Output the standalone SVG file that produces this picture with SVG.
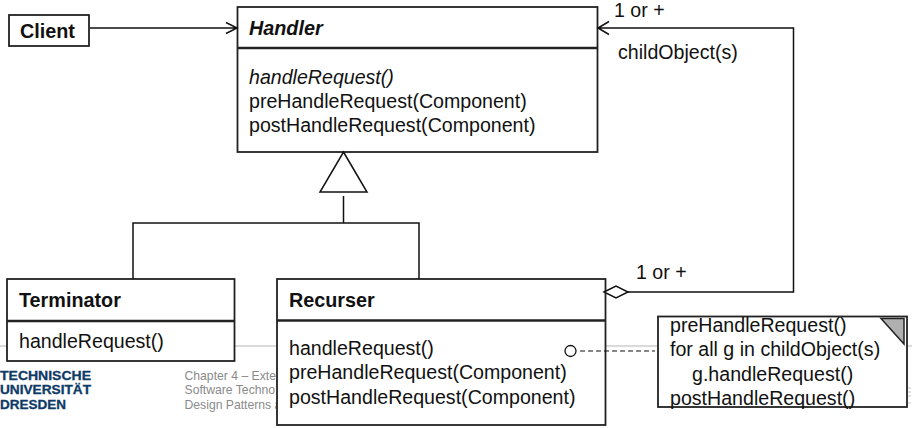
<svg xmlns="http://www.w3.org/2000/svg" width="912" height="428" viewBox="0 0 912 428">
<defs>
<style>
text{font-family:"Liberation Sans",Arial,sans-serif;fill:#111}
.t{font-size:19.6px}
.b{font-size:19.8px;font-weight:700}
.box{fill:#fff;stroke:#222;stroke-width:1.8}
.sep{stroke:#222;stroke-width:2.6;fill:none}
.l{fill:none;stroke:#111;stroke-width:1.5}
.w{fill:#fff;stroke:#111;stroke-width:1.5}
.f{font-size:12.2px;fill:#8a8a8a}
.tu{font-size:12.6px;font-weight:700;fill:#0e3a66;stroke:#0e3a66;stroke-width:.3}
</style>
</defs>
<g id="footer">
<path d="M0 346H912" stroke="#b5b5b5" stroke-width="1.2" fill="none"/>
<path d="M908 388H911M908 392H911M908 396H911M908 403H911" stroke="#c4c4c4" stroke-width="1" fill="none"/>
<text class="tu" x="0" y="379.500" textLength="91" lengthAdjust="spacingAndGlyphs">TECHNISCHE</text>
<text class="tu" x="0" y="394" textLength="91" lengthAdjust="spacingAndGlyphs">UNIVERSITÄT</text>
<text class="tu" x="0" y="408.500" textLength="66" lengthAdjust="spacingAndGlyphs">DRESDEN</text>
<text class="f" x="184.500" y="380">Chapter 4 – Exte</text>
<text class="f" x="184.500" y="394">Software Techno</text>
<text class="f" x="184.500" y="409">Design Patterns a</text>
</g>
<g id="client">
<rect class="box" x="9" y="15" width="80" height="31"/>
<text class="b" x="20" y="37.500">Client</text>
</g>
<g id="handler">
<rect class="box" x="237.500" y="7" width="360" height="145"/>
<path class="sep" d="M237.500 48H597.500"/>
<text class="b" x="249" y="34.500" font-style="italic">Handler</text>
<text class="t" x="249" y="83.500" font-style="italic">handleRequest()</text>
<text class="t" x="249" y="107.500">preHandleRequest(Component)</text>
<text class="t" x="249" y="131.500">postHandleRequest(Component)</text>
</g>
<g id="terminator">
<rect class="box" x="7" y="279" width="227.500" height="82"/>
<path class="sep" d="M7 321H234.500"/>
<text class="b" x="19" y="306.500">Terminator</text>
<text class="t" x="19" y="347.500">handleRequest()</text>
</g>
<g id="recurser">
<rect class="box" x="277" y="279" width="328.500" height="146"/>
<path class="sep" d="M277 320.500H605.500"/>
<text class="b" x="289" y="306.500">Recurser</text>
<text class="t" x="289" y="354.500">handleRequest()</text>
<text class="t" x="289" y="378.500">preHandleRequest(Component)</text>
<text class="t" x="289" y="403.500">postHandleRequest(Component)</text>
<circle cx="570.500" cy="351" r="5.500" fill="#fff" stroke="#111" stroke-width="1.3"/>
</g>
<g id="note">
<rect class="box" x="658" y="316.500" width="249" height="90.500"/>
<path d="M881 318.500H904V344Z" fill="#b0b0b0" stroke="#222" stroke-width="1.5"/>
<text class="t" x="670" y="332">preHandleRequest()</text>
<text class="t" x="670" y="356">for all g in childObject(s)</text>
<text class="t" x="692" y="381">g.handleRequest()</text>
<text class="t" x="670" y="405">postHandleRequest()</text>
</g>
<g id="connectors">
<path class="l" d="M90 28H236M226 22.500L237 28L226 33.500"/>
<path class="l" d="M608 292H793.500V28H598M609 21.500L598 28L609 34.500"/>
<path class="l" d="M343.500 196V223M133 279V223H419V279"/>
<path class="w" d="M343.500 152L367 192H320Z"/>
<path class="w" d="M604 292L616 286L628 292L616 298Z"/>
<path d="M580 351H655" fill="none" stroke="#111" stroke-width="1.1" stroke-dasharray="5 3"/>
</g>
<g id="labels">
<text class="t" x="614" y="17">1 or +</text>
<text class="t" x="618" y="58.500">childObject(s)</text>
<text class="t" x="636" y="279">1 or +</text>
</g>
</svg>
